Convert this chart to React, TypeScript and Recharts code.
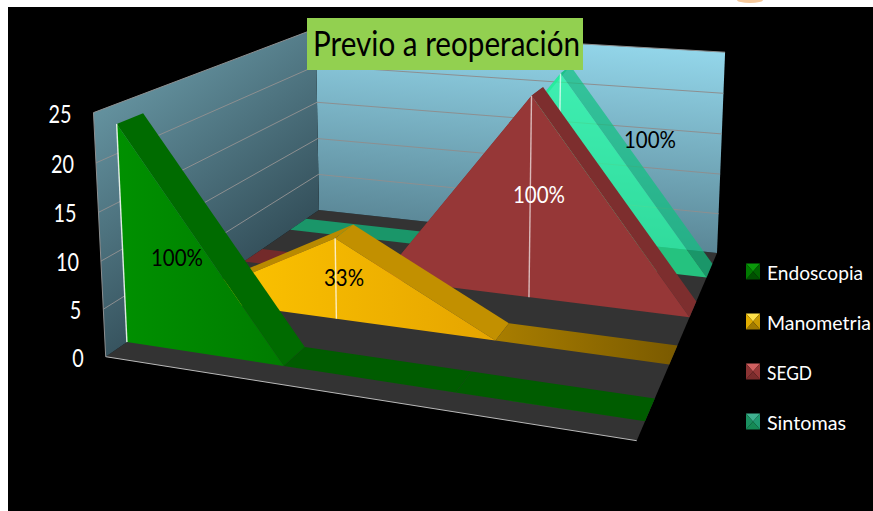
import { AreaChart, Area, XAxis, YAxis, Legend } from 'recharts';

const categories = ['1', '2', '3', '4'];
const seriesNames = ['Endoscopia', 'Manometria', 'SEGD', 'Sintomas'];
const endoscopia = [23, 0, 0, 0];
const manometria = [0, 9, 0, 0];
const segd = [0, 0, 23, 0];
const sintomas = [0, 0, 23, 0];
const yTicks = [0, 5, 10, 15, 20, 25];
const percentLabels = ['100%', '33%', '100%', '100%'];

const data = categories.map((c, i) => ({
  cat: c,
  Endoscopia: endoscopia[i],
  Manometria: manometria[i],
  SEGD: segd[i],
  Sintomas: sintomas[i],
}));

const W = 865;
const H = 504;
const OX = 8;
const OY = 7;
const AXIS_W = 1; // an axis of width 0 draws nothing
const FONT = 'Lato, sans-serif';

type Pt = [number, number];

// floor quad as a homography, corners: (0,0) (1,0) (1,1) (0,1)
const floorQuad: Pt[] = [[105.7, 356.7], [636.7, 440.7], [717, 253], [319, 210]];
const [[x0, y0], [x1, y1], [x2, y2], [x3, y3]] = floorQuad;
const dx1 = x1 - x2, dx2 = x3 - x2, sx = x0 - x1 + x2 - x3;
const dy1 = y1 - y2, dy2 = y3 - y2, sy = y0 - y1 + y2 - y3;
const den = dx1 * dy2 - dx2 * dy1;
const g = (sx * dy2 - dx2 * sy) / den;
const h = (dx1 * sy - sx * dy1) / den;
const a = x1 - x0 + g * x1, b = x3 - x0 + h * x3;
const d = y1 - y0 + g * y1, e = y3 - y0 + h * y3;

// vertical column of the camera matrix, fitted to the wall corners
const VX = -15.5;
const VY = -248;
const VW = -0.035;

// u along categories, v height 0..1, t depth 0..1; result in chart pixels
const project = (u: number, v: number, t: number): Pt => {
  const w = g * u + h * t + 1 + VW * v;
  return [(a * u + b * t + x0 + VX * v) / w - OX, (d * u + e * t + y0 + VY * v) / w - OY];
};

const poly = (pts: Pt[]) => pts.map((p) => `${p[0].toFixed(1)},${p[1].toFixed(1)}`).join(' ');

const looks = [
  { face: 'url(#faceGreen)', up: '#006b00', down: '#006b00', flat: '#005c00', icon: ['#0a9a0a', '#006400', '#005000', '#007a00'], line: 0.85, alpha: 1 },
  { face: 'url(#faceYellow)', up: '#b98a00', down: '#c29000', flat: 'url(#flatYellow)', icon: ['#ffe14a', '#c99a00', '#a07a00', '#e0ac00'], line: 0.75, alpha: 1 },
  { face: '#963737', up: '#7d2e2e', down: '#7d2e2e', flat: '#732a2a', icon: ['#d06060', '#963737', '#7a2c2c', '#8a3333'], line: 0.65, alpha: 1 },
  { face: '#20ffa0', up: '#10c080', down: '#10c080', flat: '#10c080', icon: ['#40b090', '#1f9a70', '#158a55', '#1a9060'], line: 0.7, alpha: 0.7 },
];

const rowDepth = (i: number): [number, number] => [(i + 0.3) / 4, (i + 0.68) / 4];

const labelSpots = [
  { x: 177, y: 266, w: 52, color: '#000' },
  { x: 344, y: 286, w: 40, color: '#000' },
  { x: 539, y: 203, w: 52, color: '#fff' },
  { x: 650, y: 148, w: 52, color: '#000' },
];

const SeriesShape = (props: any, seriesIndex: number) => {
  const { index, points } = props;
  if (index !== 0 || !points) return <g key={`d-${index}`} />;
  const look = looks[seriesIndex];
  const [d0, d1] = rowDepth(seriesIndex);
  const n = points.length - 1;
  const pts = points.map((p: any) => ({ u: (p.x - AXIS_W) / (W - AXIS_W), v: 1 - p.y / H }));
  const bands = [];
  for (let i = 0; i < n; i++) {
    const s = pts[i];
    const f = pts[i + 1];
    const fill = s.v === f.v ? look.flat : f.v > s.v ? look.up : look.down;
    bands.push(
      <polygon
        key={i}
        points={poly([project(s.u, s.v, d0), project(f.u, f.v, d0), project(f.u, f.v, d1), project(s.u, s.v, d1)])}
        fill={fill}
        fillOpacity={look.alpha}
      />,
    );
  }
  const faceOutline: Pt[] = [
    project(0, 0, d0),
    ...pts.map((p: any) => project(p.u, p.v, d0)),
    project(1, 0, d0),
  ];
  const spot = labelSpots[seriesIndex];
  return (
    <g key={`d-${index}`}>
      {bands}
      <polygon points={poly(faceOutline)} fill={look.face} fillOpacity={look.alpha} />
      {pts.map((p: any, i: number) => {
        if (p.v <= 0) return null;
        const top = project(p.u, p.v, d0);
        const base = project(p.u, 0, d0);
        return <line key={i} x1={top[0]} y1={top[1]} x2={base[0]} y2={base[1]} stroke="#fff" strokeOpacity={look.line} strokeWidth={1.4} />;
      })}
      <text
        x={spot.x - OX}
        y={spot.y - OY}
        textAnchor="middle"
        fontFamily={FONT}
        fontSize={24}
        fill={spot.color}
        textLength={spot.w}
        lengthAdjust="spacingAndGlyphs"
      >
        {percentLabels[seriesIndex]}
      </text>
    </g>
  );
};

const YTick = ({ y, payload }: any) => {
  const p = project(0, 1 - y / H, 0);
  return (
    <text
      x={p[0] - 22}
      y={p[1] + 10}
      textAnchor="end"
      fontFamily={FONT}
      fontSize={24.5}
      fill="#fff"
      textLength={payload.value >= 10 ? 23 : 11.5}
      lengthAdjust="spacingAndGlyphs"
    >
      {payload.value}
    </text>
  );
};

const legendWidths = [96, 104, 45, 79];

const LegendBox = () => (
  <div style={{ width: 0, height: 0, overflow: 'visible', position: 'relative' }}>
    <svg width={W} height={H} style={{ position: 'absolute', left: 0, top: 0, pointerEvents: 'none', overflow: 'visible' }}>
      {seriesNames.map((name, i) => {
        const x = 746 - OX;
        const y = 263.5 + i * 50 - OY;
        const w = 14;
        const hh = 16;
        const c = looks[i].icon;
        const mid: Pt = [x + w / 2, y + hh / 2];
        return (
          <g key={name}>
            <polygon points={poly([[x, y], [x + w, y], mid])} fill={c[0]} />
            <polygon points={poly([[x + w, y], [x + w, y + hh], mid])} fill={c[1]} />
            <polygon points={poly([[x, y + hh], [x + w, y + hh], mid])} fill={c[2]} />
            <polygon points={poly([[x, y], [x, y + hh], mid])} fill={c[3]} />
            <text
              x={767 - OX}
              y={279.5 + i * 50 - OY}
              fontFamily={FONT}
              fontSize={20}
              fill="#fff"
              textLength={legendWidths[i]}
              lengthAdjust="spacingAndGlyphs"
            >
              {name}
            </text>
          </g>
        );
      })}
    </svg>
  </div>
);

const Walls = () => {
  const back = poly([project(0, 0, 1), project(1, 0, 1), project(1, 1, 1), project(0, 1, 1)]);
  const side = poly([project(0, 0, 0), project(0, 0, 1), project(0, 1, 1), project(0, 1, 0)]);
  const floor = poly([project(0, 0, 0), project(1, 0, 0), project(1, 0, 1), project(0, 0, 1)]);
  const f0 = project(0, 0, 0);
  const f1 = project(1, 0, 0);
  const w0 = project(0, 1, 0);
  return (
    <g>
      <defs>
        <linearGradient id="backWall" gradientUnits="userSpaceOnUse" x1="490" y1="25" x2="470" y2="245">
          <stop offset="0" stopColor="#93d6ea" />
          <stop offset="1" stopColor="#557f8e" />
        </linearGradient>
        <linearGradient id="sideWall" gradientUnits="userSpaceOnUse" x1="130" y1="70" x2="260" y2="240">
          <stop offset="0" stopColor="#64929f" />
          <stop offset="1" stopColor="#35515c" />
        </linearGradient>
        <linearGradient id="faceGreen" gradientUnits="userSpaceOnUse" x1="110" y1="0" x2="290" y2="0">
          <stop offset="0" stopColor="#009000" />
          <stop offset="1" stopColor="#007a00" />
        </linearGradient>
        <linearGradient id="faceYellow" gradientUnits="userSpaceOnUse" x1="240" y1="0" x2="490" y2="0">
          <stop offset="0" stopColor="#fac000" />
          <stop offset="1" stopColor="#e5a400" />
        </linearGradient>
        <linearGradient id="flatYellow" gradientUnits="userSpaceOnUse" x1="490" y1="0" x2="670" y2="0">
          <stop offset="0" stopColor="#a87d00" />
          <stop offset="1" stopColor="#7a5a00" />
        </linearGradient>
      </defs>
      <polygon points={floor} fill="#333333" />
      <polygon points={back} fill="url(#backWall)" />
      <polygon points={side} fill="url(#sideWall)" />
      {yTicks.map((t) => {
        const v = t / 25;
        const p0 = project(0, v, 0);
        const p1 = project(0, v, 1);
        const p2 = project(1, v, 1);
        return (
          <g key={t} stroke="#8d8f90" strokeWidth={1}>
            {t > 0 && <line x1={p0[0]} y1={p0[1]} x2={p1[0]} y2={p1[1]} />}
            {t > 0 && <line x1={p1[0]} y1={p1[1]} x2={p2[0]} y2={p2[1]} />}
          </g>
        );
      })}
      <line x1={f0[0]} y1={f0[1]} x2={w0[0]} y2={w0[1]} stroke="#8d8f90" />
      <line x1={f0[0]} y1={f0[1]} x2={f1[0]} y2={f1[1]} stroke="#b9b9b9" />
    </g>
  );
};

const drawOrder = [3, 2, 1, 0];

export default function App() {
  return (
    <>
      <div style={{ position: 'absolute', left: 737, top: -3, width: 26, height: 6, borderRadius: '50%', background: '#f5c89a' }} />
      <div style={{ position: 'absolute', left: OX, top: OY, width: W, height: H, background: '#000' }}>
        <AreaChart width={W} height={H} data={data} margin={{ top: 0, right: 0, bottom: 0, left: 0 }}>
          <XAxis dataKey="cat" hide />
          <YAxis
            width={AXIS_W}
            domain={[0, 25]}
            ticks={yTicks}
            interval={0}
            axisLine={false}
            tickLine={false}
            tick={YTick}
          />
          {Walls()}
          <Legend
            layout="vertical"
            align="right"
            verticalAlign="top"
            content={LegendBox}
            wrapperStyle={{ left: 0, top: 0, right: 'auto', bottom: 'auto', width: 0, height: 0 }}
          />
          {drawOrder.map((i) => (
            <Area
              key={seriesNames[i]}
              dataKey={seriesNames[i]}
              type="linear"
              stroke="none"
              fill="none"
              isAnimationActive={false}
              dot={(p: any) => SeriesShape(p, i)}
            />
          ))}
        </AreaChart>
        <div style={{ position: 'absolute', left: 299, top: 11, width: 276, height: 52, background: '#92d050' }}>
          <svg width={276} height={52} style={{ display: 'block', overflow: 'visible' }}>
            <text x={6} y={38} fontFamily={FONT} fontSize={34} fill="#000" textLength={267} lengthAdjust="spacingAndGlyphs">
              Previo a reoperación
            </text>
          </svg>
        </div>
      </div>
    </>
  );
}
